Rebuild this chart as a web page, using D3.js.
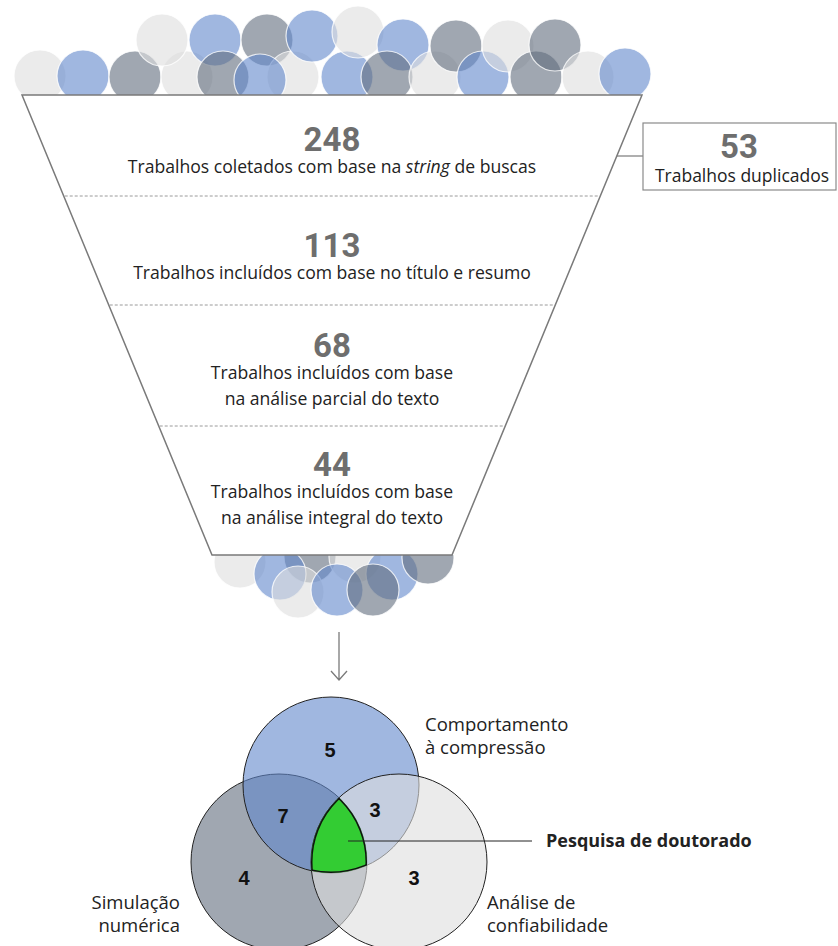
<!DOCTYPE html>
<html>
<head>
<meta charset="utf-8">
<script src="https://cdn.jsdelivr.net/npm/d3@7"></script>
<style>
  html, body { margin: 0; padding: 0; background: #fff; }
  svg { display: block; }
  .num { font-family: "Roboto", "Liberation Sans", sans-serif; font-weight: bold; fill: #6e6e6e; }
  .lbl { font-family: "Open Sans", "Lato", sans-serif; fill: #222; }
  .vnum { font-family: "Liberation Sans", Arial, sans-serif; font-weight: bold; fill: #111; }
</style>
</head>
<body>
<div id="vis"></div>
<script>
// DATA
let funnelCounts = [248, 113, 68, 44];
let funnelLabels = [
	['Trabalhos coletados com base na *string* de buscas'],
	['Trabalhos incluídos com base no título e resumo'],
	['Trabalhos incluídos com base', 'na análise parcial do texto'],
	['Trabalhos incluídos com base', 'na análise integral do texto']
];
let duplicateCount = 53;
let duplicateLabel = 'Trabalhos duplicados';

let vennSets = ['numérica', 'compressão', 'confiabilidade'];
let vennSetLabels = [
	['Simulação', 'numérica'],
	['Comportamento', 'à compressão'],
	['Análise de', 'confiabilidade']
];
let vennRegions = ['compressão', 'numérica+compressão', 'compressão+confiabilidade', 'numérica', 'confiabilidade'];
let vennCounts = [5, 7, 3, 4, 3];
let highlightLabel = 'Pesquisa de doutorado';

// LAYOUT (decoration + geometry)
let width = 838,
	height = 946;
let stageEdges = [95, 196, 305, 426, 555],
	numberY = [151, 257, 357, 476],
	lineGap = 26;

let tones = {
	blue: '#6187cb',
	gray: '#616c7d',
	light: '#dedede'
};

let topBubbles = [
	[40, 76, 'light'], [83, 76, 'blue'], [135, 77, 'gray'], [187, 77, 'light'],
	[162, 40, 'light'], [215, 40, 'blue'], [223, 77, 'gray'], [267, 40, 'gray'],
	[293, 77, 'light'], [260, 80, 'blue'], [312, 36, 'blue'], [347, 77, 'blue'],
	[358, 32, 'light'], [403, 45, 'blue'], [387, 77, 'gray'], [435, 77, 'light'],
	[456, 46, 'gray'], [483, 77, 'blue'], [508, 46, 'light'], [536, 77, 'gray'],
	[555, 45, 'gray'], [588, 77, 'light'], [625, 74, 'blue']
];
let bottomBubbles = [
	[240, 562, 'light'], [310, 557, 'gray'], [355, 557, 'light'], [280, 574, 'blue'],
	[392, 574, 'blue'], [428, 558, 'gray'], [298, 592, 'light'], [337, 590, 'blue'],
	[373, 590, 'gray']
];

let vennCircles = {
	'numérica': { cx: 279, cy: 862, r: 88, tone: 'gray' },
	'compressão': { cx: 331, cy: 785, r: 88, tone: 'blue' },
	'confiabilidade': { cx: 399, cy: 862, r: 88, tone: 'light' }
};
let regionPos = {
	'compressão': [330, 750],
	'numérica+compressão': [283, 816],
	'compressão+confiabilidade': [375, 810],
	'numérica': [244, 878],
	'confiabilidade': [414, 878]
};

// SCALES
let cx = 332;
let halfWidth = d3.scaleLinear().domain([stageEdges[0], stageEdges[4]]).range([310, 120]);
let bubbleR = 26;

let svg = d3.select('#vis').append('svg').attr('width', width).attr('height', height);
let defs = svg.append('defs');

defs.append('clipPath').attr('id', 'clip-top')
	.append('rect').attr('x', 0).attr('y', 0).attr('width', width).attr('height', stageEdges[0]);
defs.append('clipPath').attr('id', 'clip-bottom')
	.append('rect').attr('x', 0).attr('y', stageEdges[4]).attr('width', width).attr('height', 120);

// BUBBLES
let drawBubbles = (data, clip) => {
	svg.append('g')
		.attr('clip-path', `url(#${clip})`)
		.selectAll('circle')
		.data(data)
		.enter()
		.append('circle')
		.attr('cx', d => d[0])
		.attr('cy', d => d[1])
		.attr('r', bubbleR)
		.attr('fill', d => tones[d[2]])
		.attr('fill-opacity', 0.6)
		.attr('stroke', '#fff')
		.attr('stroke-opacity', 0.8)
		.attr('stroke-width', 1.2);
};
drawBubbles(topBubbles, 'clip-top');
drawBubbles(bottomBubbles, 'clip-bottom');

// FUNNEL
let funnelTop = stageEdges[0],
	funnelBot = stageEdges[4];
svg.append('polygon')
	.attr('points', [
		[cx - halfWidth(funnelTop), funnelTop], [cx + halfWidth(funnelTop), funnelTop],
		[cx + halfWidth(funnelBot), funnelBot], [cx - halfWidth(funnelBot), funnelBot]
	].map(p => p.join(',')).join(' '))
	.attr('fill', '#fff')
	.attr('stroke', '#7a7a7a')
	.attr('stroke-width', 1.5);

svg.selectAll('line.sep')
	.data(stageEdges.slice(1, 4))
	.enter()
	.append('line')
	.attr('class', 'sep')
	.attr('x1', d => cx - halfWidth(d) + 1)
	.attr('x2', d => cx + halfWidth(d) - 1)
	.attr('y1', d => d)
	.attr('y2', d => d)
	.attr('stroke', '#9a9a9a')
	.attr('stroke-width', 1)
	.attr('stroke-dasharray', '3,2');

let addNumber = (parent, x, y, value) => {
	parent.append('text')
		.attr('class', 'num')
		.attr('x', x)
		.attr('y', y)
		.attr('text-anchor', 'middle')
		.attr('font-size', 33)
		.text(value);
};

let stages = svg.selectAll('g.stage')
	.data(funnelCounts)
	.enter()
	.append('g')
	.attr('class', 'stage');

stages.each(function (d, i) {
	let g = d3.select(this);
	addNumber(g, cx, numberY[i], d);
	funnelLabels[i].forEach((line, j) => {
		let t = g.append('text')
			.attr('class', 'lbl')
			.attr('x', cx)
			.attr('y', numberY[i] + 22 + j * lineGap)
			.attr('text-anchor', 'middle')
			.attr('font-size', 17.6);
		line.split('*').forEach((part, k) => {
			t.append('tspan')
				.attr('font-style', k % 2 ? 'italic' : null)
				.text(part);
		});
	});
});

// DUPLICATES BOX
let boxY = 156;
svg.append('line')
	.attr('x1', cx + halfWidth(boxY))
	.attr('x2', 643)
	.attr('y1', boxY)
	.attr('y2', boxY)
	.attr('stroke', '#7a7a7a')
	.attr('stroke-width', 1.2);
svg.append('rect')
	.attr('x', 643).attr('y', 123)
	.attr('width', 193).attr('height', 67)
	.attr('fill', '#fff')
	.attr('stroke', '#8a8a8a')
	.attr('stroke-width', 1.2);
addNumber(svg, 739, 158, duplicateCount);
svg.append('text')
	.attr('class', 'lbl')
	.attr('x', 742).attr('y', 182)
	.attr('text-anchor', 'middle')
	.attr('font-size', 17.5)
	.text(duplicateLabel);

// ARROW
svg.append('path')
	.attr('d', `M${cx + 7},632 V680 M${cx - 1},671 L${cx + 7},680 L${cx + 15},671`)
	.attr('fill', 'none')
	.attr('stroke', '#7a7a7a')
	.attr('stroke-width', 1.3);

// VENN
let venn = svg.append('g');
vennSets.forEach(key => {
	let c = vennCircles[key];
	venn.append('circle')
		.attr('cx', c.cx).attr('cy', c.cy).attr('r', c.r)
		.attr('fill', tones[c.tone])
		.attr('fill-opacity', 0.6)
		.attr('stroke', '#222')
		.attr('stroke-width', 1);
});

vennSets.forEach(key => {
	let c = vennCircles[key];
	defs.append('clipPath').attr('id', 'clip-' + c.tone)
		.append('circle').attr('cx', c.cx).attr('cy', c.cy).attr('r', c.r);
});
let inter = venn.append('g').attr('clip-path', 'url(#clip-gray)')
	.append('g').attr('clip-path', 'url(#clip-blue)')
	.append('g').attr('clip-path', 'url(#clip-light)');
inter.append('rect')
	.attr('x', 0).attr('y', 0).attr('width', width).attr('height', height)
	.attr('fill', '#33cc33');
vennSets.forEach(key => {
	let c = vennCircles[key];
	inter.append('circle')
		.attr('cx', c.cx).attr('cy', c.cy).attr('r', c.r)
		.attr('fill', 'none')
		.attr('stroke', '#111')
		.attr('stroke-width', 3);
});

venn.selectAll('text.vnum')
	.data(vennCounts)
	.enter()
	.append('text')
	.attr('class', 'vnum')
	.attr('x', (d, i) => regionPos[vennRegions[i]][0])
	.attr('y', (d, i) => regionPos[vennRegions[i]][1] + 7)
	.attr('text-anchor', 'middle')
	.attr('font-size', 20)
	.text(d => d);

// set labels
let labelPos = [
	{ x: 180, y: 909, anchor: 'end' },
	{ x: 425, y: 731, anchor: 'start' },
	{ x: 487, y: 909, anchor: 'start' }
];
vennSetLabels.forEach((lines, i) => {
	lines.forEach((line, j) => {
		svg.append('text')
			.attr('class', 'lbl')
			.attr('x', labelPos[i].x)
			.attr('y', labelPos[i].y + j * 23)
			.attr('text-anchor', labelPos[i].anchor)
			.attr('font-size', 18.5)
			.text(line);
	});
});

// highlight callout
let greenX = 348,
	greenY = 841;
let shadow = defs.append('filter').attr('id', 'blur')
	.attr('x', '-10%').attr('y', '-200%').attr('width', '120%').attr('height', '500%');
shadow.append('feGaussianBlur').attr('stdDeviation', 2.5);
svg.append('line')
	.attr('x1', greenX + 10).attr('x2', 530)
	.attr('y1', greenY + 7).attr('y2', greenY + 7)
	.attr('stroke', '#bbb')
	.attr('stroke-opacity', 0.5)
	.attr('stroke-width', 4)
	.attr('filter', 'url(#blur)');
svg.append('line')
	.attr('x1', greenX).attr('x2', 532)
	.attr('y1', greenY).attr('y2', greenY)
	.attr('stroke', '#222')
	.attr('stroke-width', 1);
svg.append('text')
	.attr('class', 'lbl')
	.attr('x', 546).attr('y', greenY + 6)
	.attr('font-size', 18)
	.attr('font-weight', 'bold')
	.text(highlightLabel);
</script>
</body>
</html>
